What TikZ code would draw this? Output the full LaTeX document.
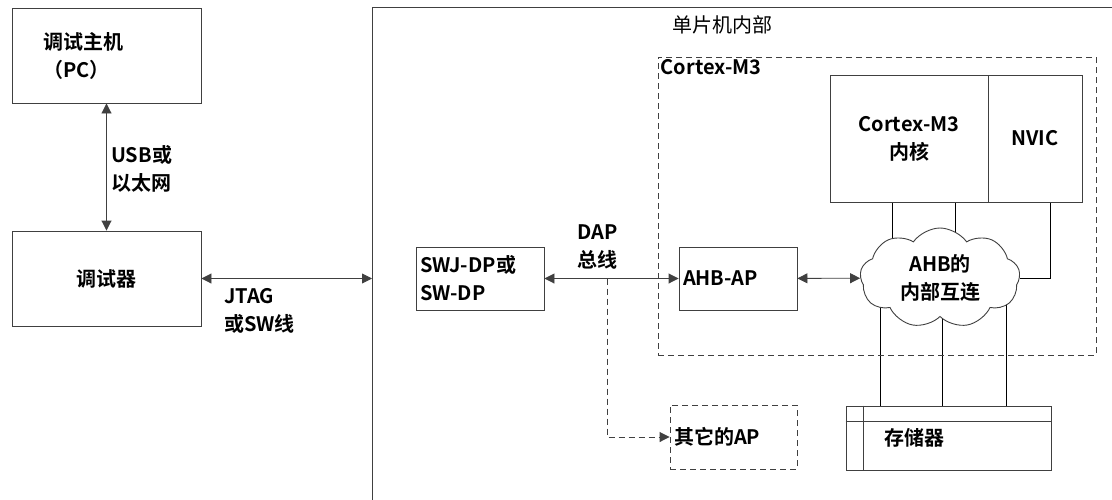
\documentclass[tikz,border=0pt]{standalone}
\usepackage{fontspec}
\setmainfont{Noto Sans CJK SC}[BoldFont={Noto Sans CJK SC Bold}]
\usepackage{tikz}
\usetikzlibrary{arrows.meta,shapes.symbols,positioning,calc,backgrounds}

\begin{document}
\begin{tikzpicture}[x=1pt, y=-1pt, color=black!75,
		every node/.style={text=black, inner sep=3pt, font=\fontsize{20}{28}\selectfont\bfseries},
		box/.style={draw, line width=0.9pt, inner sep=0pt, align=center},
		dashbox/.style={box, dash pattern=on 6pt off 4pt},
		link/.style={line width=0.9pt},
		tip/.style={-{Triangle[length=10pt,width=10pt]}},
		dual/.style={link, {Triangle[length=10pt,width=10pt]}-{Triangle[length=10pt,width=10pt]}},
	]
		\useasboundingbox (0,0) rectangle (1112,499);

		% host side
		\node[box, minimum width=189pt, minimum height=95pt, text width=127pt, inner xsep=31pt, align=left] (pc) at (106.5,55.5) {调试主机\\（PC）};
		\node[box, minimum width=189pt, minimum height=95pt] (dbg) at (106.5,278.5) {调试器};
		\draw[dual] (pc) -- (dbg);
		\node[anchor=west, align=left] (usb) at (108,169) {USB或\\以太网};

		% chip
		\node[box, anchor=north west, minimum width=780pt, minimum height=530pt] (mcu) at (372,7) {};
		\node[font=\fontsize{20}{28}\selectfont] (mculbl) at (722,25) {单片机内部};
		\draw[dual] (dbg.east) -- (dbg.east -| mcu.west);
		\node[anchor=west, align=left] (jtag) at (221,311) {JTAG\\或SW线};

		\node[box, minimum height=63pt, text width=120pt, inner xsep=4pt, align=left] (swj) at (480,278.5) {SWJ-DP或\\SW-DP};
		\node[box, minimum height=63pt, text width=110pt, inner xsep=4pt, align=left] (ahbap) at (738,278.5) {AHB-AP};
		\draw[dual] (swj) -- (ahbap);
		\node[anchor=west, align=left] (dap) at (574,247) {DAP\\总线};
		\coordinate (tap) at (607,278.5);
		\node[dashbox, minimum height=64pt, text width=119pt, inner xsep=4pt, align=left] (otherap) at (733.5,437) {其它的AP};
		\draw[link, tip, dash pattern=on 6pt off 4pt] (tap) |- (otherap);

		% Cortex-M3
		\node[dashbox, minimum width=438pt, minimum height=298pt] (cm3) at (877,206) {};
		\node[anchor=north west] (cm3lbl) at (cm3.north west) {Cortex-M3};
		\node[box, minimum width=158pt, minimum height=127pt] (core) at (909,138.5) {Cortex-M3\\内核};
		\node[box, minimum width=94pt, minimum height=127pt] (nvic) at (1035,138.5) {NVIC};
		\node[cloud, draw, line width=0.9pt, fill=white, cloud puffs=9, cloud puff arc=110, aspect=1.6, minimum width=160pt, minimum height=100pt, inner sep=0pt, align=center] (ahb) at (940,278) {AHB的\\内部互连};
		\draw[dual] (ahbap) -- (ahb);

		% memory
		\node[box, minimum width=205pt, minimum height=64pt, text width=128pt, align=left] (mem) at (948.5,438) {存储器};
		\draw[link] ($(mem.north west)+(0,16)$) -- ($(mem.north east)+(0,16)$);
		\draw[link] ($(mem.north west)+(18,0)$) -- ($(mem.south west)+(18,0)$);

		\coordinate (c1) at ($(core.south west)+(63,0)$);
		\coordinate (c2) at ($(core.south west)+(126,0)$);
		\coordinate (n1) at ($(nvic.south west)+(63,0)$);
		\coordinate (m1) at ($(mem.north west)+(35,0)$);
		\coordinate (m2) at ($(mem.north west)+(97,0)$);
		\coordinate (m3) at ($(mem.north west)+(161,0)$);
		\begin{scope}[on background layer]
			\draw[link] (c1) -- (c1 |- ahb.center);
			\draw[link] (c2) -- (c2 |- ahb.center);
			\draw[link] (n1) |- (ahb.east);
			\foreach \m in {m1,m2,m3}
				\draw[link] (\m) -- (\m |- ahb.center);
		\end{scope}
	\end{tikzpicture}
\end{document}
